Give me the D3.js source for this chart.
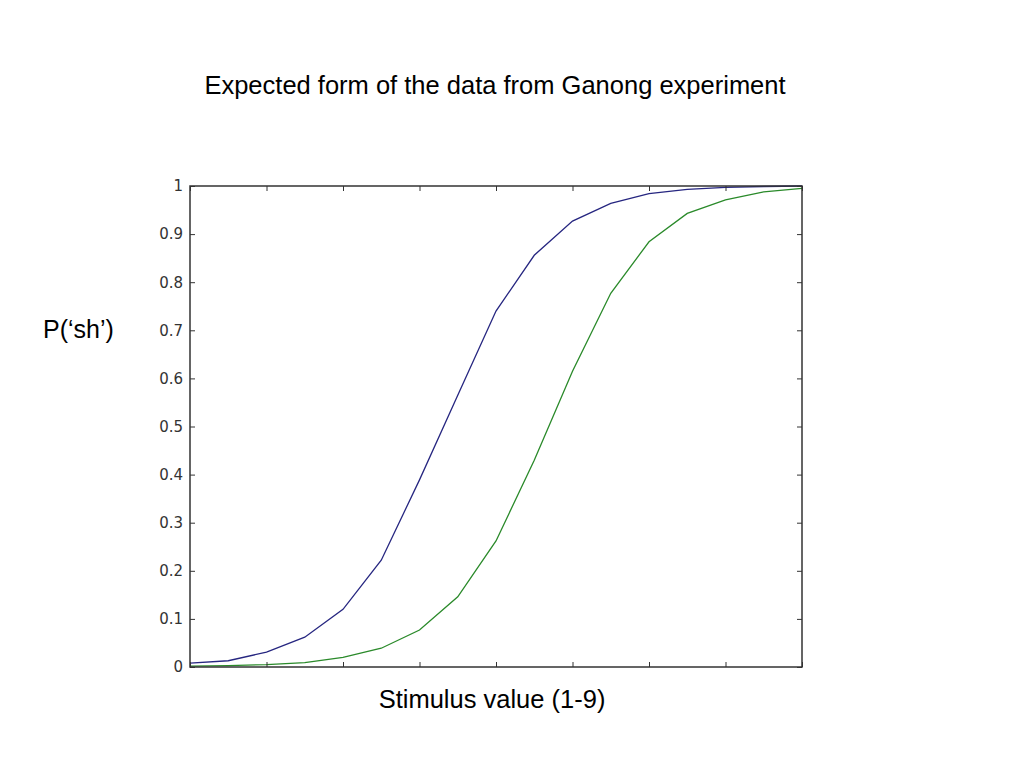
<!DOCTYPE html>
<html><head><meta charset="utf-8">
<script src="https://cdn.jsdelivr.net/npm/d3@7"></script>
<style>body{margin:0;background:#fff;}svg{display:block;}</style>
</head><body>
<svg id="chart" width="1024" height="768"></svg>
<script>
const stimulus = [1,1.5,2,2.5,3,3.5,4,4.5,5,5.5,6,6.5,7,7.5,8,8.5,9];
const blueSeries = [0.008,0.013,0.031,0.062,0.12,0.222,0.389,0.565,0.74,0.856,0.927,0.964,0.984,0.993,0.997,0.999,1.0];
const greenSeries = [0.002,0.003,0.005,0.009,0.02,0.039,0.077,0.146,0.262,0.43,0.615,0.777,0.884,0.943,0.971,0.988,0.995];
const yTicks = [0,0.1,0.2,0.3,0.4,0.5,0.6,0.7,0.8,0.9,1];
const yTickLabels = ["0","0.1","0.2","0.3","0.4","0.5","0.6","0.7","0.8","0.9","1"];
const xTicks = [1,2,3,4,5,6,7,8,9];
const title = "Expected form of the data from Ganong experiment";
const xLabel = "Stimulus value (1-9)";
const yLabel = "P(\u2018sh\u2019)";

const svg = d3.select("#chart");
const L=190, R=802, T=186, B=667;
const x = d3.scaleLinear().domain([1,9]).range([L,R]);
const y = d3.scaleLinear().domain([0,1]).range([B,T]);

const line = d3.line().x((d,i)=>x(stimulus[i])).y(d=>y(d));
svg.append("path").datum(greenSeries).attr("d",line).attr("fill","none")
  .attr("stroke","#2a8a2a").attr("stroke-width",1.3);
svg.append("path").datum(blueSeries).attr("d",line).attr("fill","none")
  .attr("stroke","#262680").attr("stroke-width",1.3);

const axisStyle = g => {
  g.select(".domain").remove();
  g.selectAll(".tick line").attr("stroke","#333").attr("stroke-width",1);
  g.selectAll(".tick text").attr("fill","#333").style("font-family","'DejaVu Sans', sans-serif").style("font-size","15px");
};
svg.append("g").attr("transform",`translate(${L},0)`)
  .call(d3.axisRight(y).tickValues(yTicks).tickFormat("").tickSize(5))
  .call(axisStyle)
  .call(g=>g.selectAll(".tick text").remove());
svg.append("g").attr("transform",`translate(${L},0)`)
  .call(d3.axisLeft(y).tickValues(yTicks).tickFormat((d,i)=>yTickLabels[i]).tickSize(0).tickPadding(7))
  .call(axisStyle);
svg.append("g").attr("transform",`translate(${R},0)`)
  .call(d3.axisLeft(y).tickValues(yTicks).tickFormat("").tickSize(5))
  .call(axisStyle);
svg.append("g").attr("transform",`translate(0,${B})`)
  .call(d3.axisTop(x).tickValues(xTicks).tickFormat("").tickSize(5))
  .call(axisStyle);
svg.append("g").attr("transform",`translate(0,${T})`)
  .call(d3.axisBottom(x).tickValues(xTicks).tickFormat("").tickSize(5))
  .call(axisStyle);

svg.append("rect").attr("x",L).attr("y",T).attr("width",R-L).attr("height",B-T)
  .attr("fill","none").attr("stroke","#333").attr("stroke-width",1.5);

const font = "'Liberation Sans', Arial, sans-serif";
svg.append("text").attr("x",495).attr("y",94).attr("text-anchor","middle")
  .style("font-family",font).style("font-size","25.5px").attr("fill","#000").text(title);
svg.append("text").attr("x",492).attr("y",708).attr("text-anchor","middle")
  .style("font-family",font).style("font-size","25.5px").attr("fill","#000").text(xLabel);
svg.append("text").attr("x",43).attr("y",338).attr("text-anchor","start")
  .style("font-family",font).style("font-size","25px").attr("fill","#000").text(yLabel);
</script>
</body></html>
